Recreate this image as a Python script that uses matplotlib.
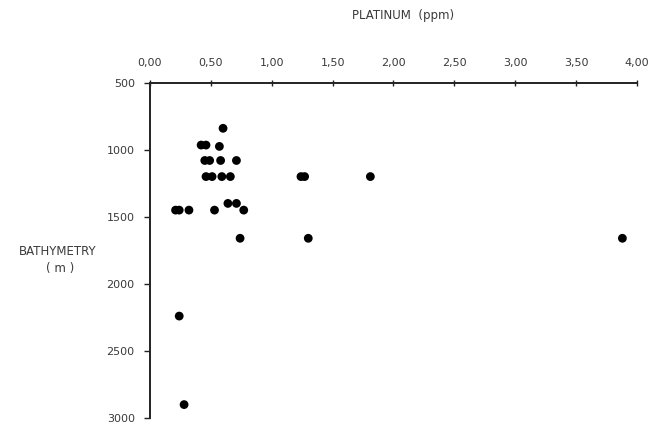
import matplotlib
matplotlib.use('Agg')
import matplotlib.pyplot as plt
from matplotlib.ticker import FuncFormatter

# platinum (ppm) vs bathymetry (m)
platinum = [0.60,
            0.42, 0.46, 0.57,
            0.45, 0.49, 0.58, 0.71,
            0.46, 0.51, 0.59, 0.66, 1.24, 1.27, 1.81,
            0.64, 0.71,
            0.21, 0.24, 0.32, 0.53, 0.77,
            0.74, 1.30, 3.88,
            0.24,
            0.28]
depth = [840,
         965, 965, 975,
         1080, 1080, 1080, 1080,
         1200, 1200, 1200, 1200, 1200, 1200, 1200,
         1400, 1400,
         1450, 1450, 1450, 1450, 1450,
         1660, 1660, 1660,
         2240,
         2900]

x_ticks = [0, 0.5, 1.0, 1.5, 2.0, 2.5, 3.0, 3.5, 4.0]
y_ticks = [500, 1000, 1500, 2000, 2500, 3000]

plt.rcParams['font.family'] = ['DejaVu Sans']
txt = '#3a3a3a'
fs = 8
lfs = 8.5

fig = plt.figure(figsize=(6.53, 4.23), dpi=100)
ax = fig.add_axes([0.2297, 0.0118, 0.7458, 0.7927])

ax.scatter(platinum, depth, s=40, color='black', edgecolors='none', clip_on=False, zorder=3)

ax.set_xlim(0, 4)
ax.set_ylim(3000, 500)
ax.set_xticks(x_ticks)
ax.set_yticks(y_ticks)
ax.xaxis.set_major_formatter(FuncFormatter(lambda v, p: ('%.2f' % v).replace('.', ',')))
ax.xaxis.tick_top()

for s in ['right', 'bottom']:
	ax.spines[s].set_visible(False)
for s in ['top', 'left']:
	ax.spines[s].set_linewidth(1.4)
	ax.spines[s].set_color('#222222')

ax.tick_params(axis='x', direction='inout', length=5, width=1, pad=8, labelsize=fs, colors='#222222')
ax.tick_params(axis='y', direction='out', length=4, width=1, pad=7, labelsize=fs, colors='#222222')
for lab in ax.get_xticklabels() + ax.get_yticklabels():
	lab.set_color(txt)

fig.text(403 / 653, 1 - 16 / 423, 'PLATINUM  (ppm)', ha='center', va='center', fontsize=lfs, color=txt)
fig.text(58 / 653, 1 - 251 / 423, 'BATHYMETRY', ha='center', va='center', fontsize=lfs, color=txt)
fig.text(60 / 653, 1 - 268 / 423, '( m )', ha='center', va='center', fontsize=lfs, color=txt)

fig.savefig('out.png', dpi=100)
